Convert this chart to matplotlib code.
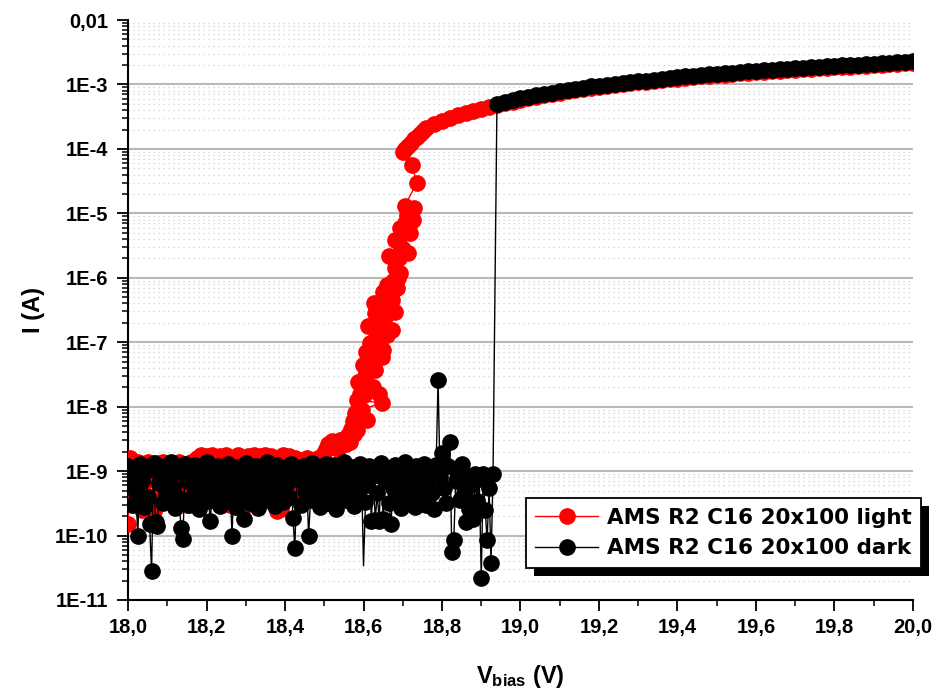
import numpy as np
import matplotlib
matplotlib.use("Agg")
import matplotlib.pyplot as plt
from matplotlib import ticker
from matplotlib.patches import Rectangle
from matplotlib.transforms import IdentityTransform

plt.rcParams['font.family'] = ['Liberation Sans', 'DejaVu Sans']
plt.rcParams['font.weight'] = 'bold'
plt.rcParams['mathtext.fontset'] = 'custom'
plt.rcParams['mathtext.rm'] = 'Liberation Sans:bold'
plt.rcParams['mathtext.bf'] = 'Liberation Sans:bold'
plt.rcParams['mathtext.it'] = 'Liberation Sans:bold'

# sweep settings (V)
v_start = 18.0
step_fine = 0.005
step_coarse = 0.02

# light: floor current, units of 1e-10 A, from 18.000 V in 0.005 V steps
light_floor = [1.5, 16, 6, 12, 3, 14, 9, 2.5, 13, 7,
               14, 4, 11, 2.4, 8, 13.5, 5, 10, 14, 3.5,
               12, 6, 9, 13, 4, 11, 14, 5, 8, 13,
               3, 10, 14, 6, 12, 16, 4.5, 18, 9, 14,
               17, 5, 11, 18, 7, 15, 3.5, 17, 10, 13,
               18, 6, 3, 16, 9, 2.8, 18, 12, 5, 16,
               3, 17, 8, 14, 18, 6, 11, 17, 4, 15,
               18, 7, 13, 17, 5, 10, 2.4, 16, 2.6, 18,
               8, 14, 17, 4, 12, 16, 6, 10, 15, 3.5,
               13, 16, 7, 11, 15, 5, 14, 16, 9, 13]

# light: breakdown region (V, A), in order of rising current
light_rise_v = [18.500, 18.505, 18.535, 18.525, 18.515, 18.545, 18.510, 18.555, 18.530, 18.565,
                18.520, 18.540, 18.550, 18.560, 18.575, 18.583, 18.568, 18.572, 18.609, 18.578,
                18.595, 18.647, 18.583, 18.602, 18.590, 18.640, 18.624, 18.612, 18.586, 18.605,
                18.629, 18.599, 18.647, 18.620, 18.606, 18.650, 18.638, 18.617, 18.632, 18.660,
                18.673, 18.634, 18.612, 18.640, 18.655, 18.629, 18.680, 18.645, 18.668, 18.626,
                18.673, 18.665, 18.650, 18.685, 18.660, 18.676, 18.688, 18.692, 18.680, 18.690,
                18.664, 18.713, 18.700, 18.695, 18.680, 18.700, 18.718, 18.692, 18.715, 18.705,
                18.726, 18.710, 18.728, 18.705, 18.736, 18.723, 18.700, 18.706, 18.713, 18.720,
                18.728, 18.736, 18.745, 18.752]
light_rise_i = [1.9e-9, 2.2e-9, 2.2e-9, 2.4e-9, 2.5e-9, 2.5e-9, 2.6e-9, 2.6e-9, 2.7e-9, 2.8e-9,
                2.9e-9, 3.0e-9, 3.2e-9, 3.6e-9, 3.8e-9, 4.3e-9, 4.5e-9, 6.0e-9, 6.2e-9, 8.0e-9,
                9.0e-9, 1.15e-8, 1.26e-8, 1.5e-8, 1.6e-8, 1.6e-8, 2.0e-8, 2.2e-8, 2.4e-8, 3.0e-8,
                3.7e-8, 4.5e-8, 5.9e-8, 6.0e-8, 7.0e-8, 7.6e-8, 8.5e-8, 9.8e-8, 1.2e-7, 1.3e-7,
                1.55e-7, 1.7e-7, 1.8e-7, 2.2e-7, 2.5e-7, 2.8e-7, 2.9e-7, 3.5e-7, 3.5e-7, 4.0e-7,
                4.5e-7, 5.5e-7, 6.0e-7, 6.9e-7, 7.7e-7, 9.0e-7, 1.0e-6, 1.2e-6, 1.4e-6, 2.0e-6,
                2.2e-6, 2.4e-6, 2.8e-6, 3.0e-6, 3.9e-6, 5.0e-6, 5.0e-6, 6.0e-6, 6.5e-6, 7.0e-6,
                8.0e-6, 9.3e-6, 1.2e-5, 1.3e-5, 3.0e-5, 5.6e-5, 9.0e-5, 1.0e-4, 1.1e-4, 1.25e-4,
                1.4e-4, 1.55e-4, 1.7e-4, 1.9e-4]

# light: above breakdown, units of 1e-4 A, from 18.76 V in 0.02 V steps
light_high_start = 18.76
light_high = [2.1, 2.4, 2.7, 3.0, 3.3, 3.6, 3.9, 4.2, 4.5, 4.8,
              5.1, 5.4, 5.8, 6.1, 6.4, 6.8, 7.1, 7.5, 7.8, 8.1,
              8.5, 8.8, 9.2, 9.5, 9.8, 10.1, 10.4, 10.8, 11.1, 11.4,
              11.7, 12.0, 12.3, 12.7, 13.0, 13.3, 13.6, 13.9, 14.2, 14.5,
              14.8, 15.1, 15.4, 15.7, 16.0, 16.3, 16.6, 16.9, 17.2, 17.5,
              17.8, 18.1, 18.4, 18.7, 19.0, 19.3, 19.6, 19.9, 20.2, 20.5,
              20.8, 21.2, 21.5]

# dark: floor current, units of 1e-10 A, from 18.000 V in 0.005 V steps
dark_floor = [12, 6, 3, 9, 4.5, 1.0, 13, 7, 2.8, 10,
              4, 1.5, 0.28, 13.5, 1.6, 1.4, 6.5, 9, 3.2, 12,
              4.5, 8, 14, 5.5, 2.7, 10, 3.8, 1.3, 0.9, 13,
              7, 3, 9.5, 4.2, 12.5, 6, 2.6, 11, 5, 8.5,
              14, 3.4, 1.7, 6.5, 9, 4.5, 12, 2.9, 7.5, 10.5,
              3.8, 13, 5.5, 1.0, 8, 2.8, 11.5, 6, 4, 1.8,
              13.5, 9, 3.2, 6.5, 4.6, 12, 2.7, 8.5, 10, 5,
              3.6, 14, 7, 4.2, 9.5, 2.9, 12.5, 5.5, 8, 3.3,
              11, 6.5, 4, 13, 1.9, 0.65, 7.5, 10, 3, 12,
              5, 8.5, 1.0, 3.5, 13.5, 6, 9.5, 4.4, 2.8, 11,
              7, 13, 3.2, 5, 9, 12.5, 2.6, 6.5, 4.2, 10,
              14, 3.6, 8, 5.5, 11.5, 2.9, 7, 4.5, 13, 9,
              0.34, 3.3, 6, 12, 1.7, 8.5, 1.75, 4.5, 1.7, 13.5,
              1.8, 7, 10, 3.2, 1.5, 5.5, 12.5, 9, 4, 2.7,
              6.5, 14, 3.5, 8, 11, 5, 2.8, 12, 7.5, 4.2,
              9.5, 13, 3, 6, 10.5, 4.5, 2.6, 12.5, 260, 8,
              19, 5.5, 3.2, 12, 28, 0.55, 0.85, 7, 10, 3.5,
              13, 4.5, 1.6, 8.5, 2.6, 6, 1.8, 9, 3.4, 7.5,
              0.22, 9, 2.5, 0.85, 5.5, 0.37, 9]
dark_no_symbol = [120]  # reading drawn as line only

# dark: above breakdown, units of 1e-4 A, from 18.94 V in 0.02 V steps
dark_high_start = 18.94
dark_high = [5.0, 5.4, 5.8, 6.2, 6.5, 6.8, 7.2, 7.5, 7.9, 8.2,
             8.6, 8.9, 9.3, 9.6, 9.9, 10.2, 10.5, 10.8, 11.2, 11.5,
             11.8, 12.2, 12.6, 13.0, 13.3, 13.7, 14.0, 14.3, 14.6, 14.9,
             15.2, 15.6, 15.9, 16.3, 16.6, 16.9, 17.2, 17.5, 17.8, 18.1,
             18.4, 18.8, 19.1, 19.4, 19.7, 20.0, 20.3, 20.6, 21.0, 21.4,
             21.8, 22.2, 22.6, 23.4]

xtick_vals = [18.0, 18.2, 18.4, 18.6, 18.8, 19.0, 19.2, 19.4, 19.6, 19.8, 20.0]
xtick_labels = ['18,0', '18,2', '18,4', '18,6', '18,8', '19,0', '19,2', '19,4', '19,6', '19,8', '20,0']
ytick_vals = [1e-11, 1e-10, 1e-9, 1e-8, 1e-7, 1e-6, 1e-5, 1e-4, 1e-3, 1e-2]
ytick_labels = ['1E-11', '1E-10', '1E-9', '1E-8', '1E-7', '1E-6', '1E-5', '1E-4', '1E-3', '0,01']

label_light = 'AMS R2 C16 20x100 light'
label_dark = 'AMS R2 C16 20x100 dark'

# assemble the sweeps
lf_v = v_start + step_fine * np.arange(len(light_floor))
lh_v = light_high_start + step_coarse * np.arange(len(light_high))
light_v = np.concatenate([lf_v, light_rise_v, lh_v])
light_i = np.concatenate([np.array(light_floor) * 1e-10, light_rise_i, np.array(light_high) * 1e-4])

df_v = v_start + step_fine * np.arange(len(dark_floor))
dh_v = dark_high_start + step_coarse * np.arange(len(dark_high))
dark_v = np.concatenate([df_v, dh_v])
dark_i = np.concatenate([np.array(dark_floor) * 1e-10, np.array(dark_high) * 1e-4])
dark_marks = np.ones(len(dark_v), dtype=bool)
dark_marks[dark_no_symbol] = False

fig = plt.figure(figsize=(9.38, 6.93), dpi=100)
ax = fig.add_axes([0.1365, 0.1342, 0.8368, 0.8369])

ax.plot(light_v, light_i, color='#ff0000', lw=1.0, marker='o', ms=11,
        mec='#ff0000', mfc='#ff0000', label=label_light, zorder=3)
ax.plot(dark_v, dark_i, color='black', lw=1.0, marker='o', ms=11,
        mec='black', mfc='black', markevery=list(dark_marks), label=label_dark, zorder=4)

ax.set_yscale('log')
ax.set_xlim(18.0, 20.0)
ax.set_ylim(1e-11, 1e-2)

# grid: solid at inner decades, dotted at minor levels
for d in ytick_vals[1:-1]:
    ax.axhline(d, color='#b9b9b9', lw=1.5, zorder=1)
    for s in range(2, 10):
        ax.axhline(d * s / 10, color='#cfcfcf', lw=0.9, ls=(0, (1, 3)), zorder=1)
for s in range(2, 10):
    ax.axhline(1e-3 * s, color='#cfcfcf', lw=0.9, ls=(0, (1, 3)), zorder=1)

ax.set_xticks(xtick_vals)
ax.set_xticklabels(xtick_labels)
ax.xaxis.set_minor_locator(ticker.MultipleLocator(0.1))
ax.set_yticks(ytick_vals)
ax.set_yticklabels(ytick_labels)
ax.yaxis.set_minor_locator(ticker.LogLocator(base=10, subs=np.arange(2, 10), numticks=100))
ax.yaxis.set_minor_formatter(ticker.NullFormatter())

for side in ['top', 'right']:
    ax.spines[side].set_visible(False)
for side in ['left', 'bottom']:
    ax.spines[side].set_linewidth(1.5)
ax.tick_params(which='major', direction='out', length=8, width=1.3, labelsize=14.5)
ax.tick_params(which='minor', direction='out', length=4, width=1.1)
ax.tick_params(axis='y', which='major', pad=6)
ax.tick_params(axis='x', which='major', pad=5)

ax.set_xlabel(r'$\mathbf{V_{bias}}$ (V)', fontsize=17, fontweight='bold')
ax.set_ylabel('I (A)', fontsize=17, fontweight='bold')
ax.xaxis.set_label_coords(0.5, -0.108)
ax.yaxis.set_label_coords(-0.106, 0.5)

leg = ax.legend(loc='upper right', bbox_to_anchor=(1.0102, 0.176), borderaxespad=0,
                fancybox=False, framealpha=1, edgecolor='black',
                prop={'family': 'DejaVu Sans', 'weight': 'bold', 'size': 15.5},
                handlelength=2.9, handletextpad=0.4, borderpad=0.45, labelspacing=0.5)
leg.get_frame().set_linewidth(1.3)
leg.set_zorder(6)

# offset black shadow behind the legend box
fig.canvas.draw()
bb = leg.get_window_extent()
shadow = Rectangle((bb.x0 + 8, bb.y0 - 8), bb.width, bb.height,
                   transform=IdentityTransform(), facecolor='black', edgecolor='none', zorder=5.5)
ax.add_patch(shadow)
shadow.set_clip_on(False)

fig.savefig('out.png', dpi=100)
